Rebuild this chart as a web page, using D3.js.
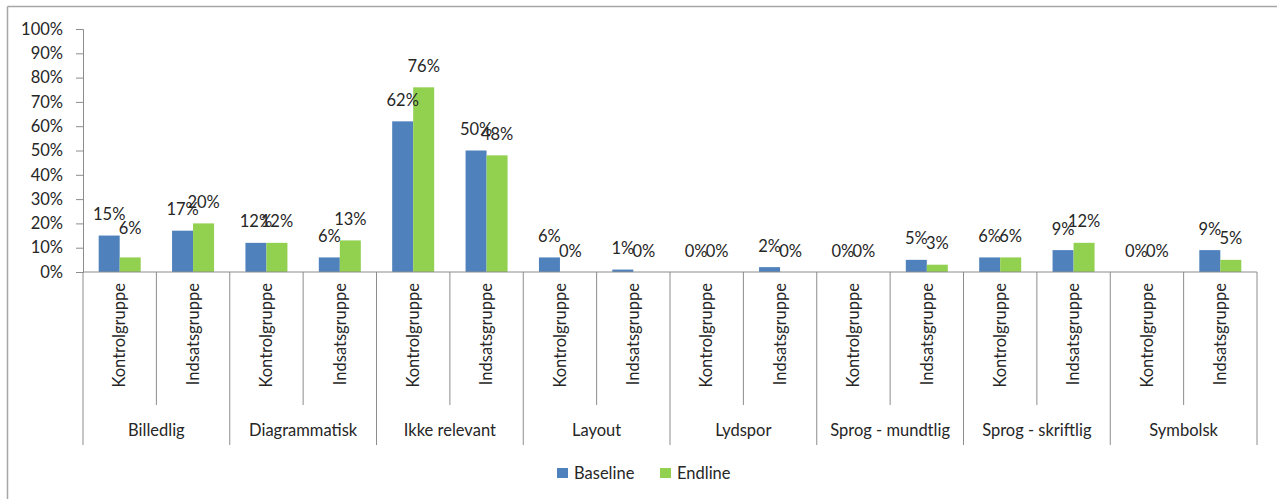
<!DOCTYPE html>
<html>
<head>
<meta charset="utf-8">
<script src="https://cdn.jsdelivr.net/npm/d3@7"></script>
<style>
  html, body { margin: 0; padding: 0; background: #fff; }
  svg { display: block; }
  text { font-family: Lato, "Open Sans", sans-serif; fill: #262626; }
</style>
</head>
<body>
<svg id="chart" width="1277" height="499"></svg>
<script>
// Categories: each main group has a control and an intervention subgroup
const groups = ["Billedlig", "Diagrammatisk", "Ikke relevant", "Layout", "Lydspor",
                "Sprog - mundtlig", "Sprog - skriftlig", "Symbolsk"];
const subgroups = ["Kontrolgruppe", "Indsatsgruppe"];
const seriesNames = ["Baseline", "Endline"];

// Share of answers (%), one value per group/subgroup in order
const baseline = [15, 17, 12, 6, 62, 50, 6, 1, 0, 2, 0, 5, 6, 9, 0, 9];
const endline  = [6, 20, 12, 13, 76, 48, 0, 0, 0, 0, 0, 3, 6, 12, 0, 5];

const yTicks = [0, 10, 20, 30, 40, 50, 60, 70, 80, 90, 100];

const colors = { Baseline: "#4F81BD", Endline: "#92D050" };
const axisColor = "#8c8c8c";

const svg = d3.select("#chart");

// outer chart frame
svg.append("line").attr("x1", 7.5).attr("x2", 1277).attr("y1", 6.5).attr("y2", 6.5)
  .attr("stroke", "#a6a6a6").attr("stroke-width", 1.5);
svg.append("line").attr("x1", 7.5).attr("x2", 7.5).attr("y1", 6.5).attr("y2", 499)
  .attr("stroke", "#a6a6a6").attr("stroke-width", 1.5);

const plot = { left: 83, right: 1257, top: 29, bottom: 272 };

// flat list of the 16 bars' category slots
const slots = [];
groups.forEach((g, gi) => subgroups.forEach((s, si) => {
  const i = gi * subgroups.length + si;
  slots.push({ key: g + "|" + s, group: g, sub: s, index: i,
               values: [baseline[i], endline[i]] });
}));

const x = d3.scaleBand().domain(slots.map(d => d.key))
  .range([plot.left, plot.right]).padding(0);
const y = d3.scaleLinear().domain([0, 100]).range([plot.bottom, plot.top]);
const barW = 21;
const xs = d3.scaleBand().domain(seriesNames).range([-barW, barW]).padding(0);

// y axis
const yAxis = d3.axisLeft(y).tickValues(yTicks).tickSize(7).tickPadding(13)
  .tickFormat(d => d + "%");
const gy = svg.append("g").attr("transform", `translate(${plot.left},0)`).call(yAxis);
gy.select(".domain").attr("stroke", axisColor);
gy.selectAll(".tick line").attr("stroke", axisColor);
gy.selectAll(".tick text").attr("font-size", 16.5).attr("fill", "#262626")
  .style("font-family", "Lato, sans-serif");

// bars
const slotG = svg.append("g").selectAll("g").data(slots).join("g")
  .attr("transform", d => `translate(${x(d.key) + x.bandwidth() / 2},0)`);

slotG.selectAll("rect")
  .data(d => seriesNames.map((s, k) => ({ series: s, value: d.values[k], idx: d.index })))
  .join("rect")
  .attr("x", d => xs(d.series))
  .attr("width", xs.bandwidth())
  .attr("y", d => y(d.value))
  .attr("height", d => y(0) - y(d.value))
  .attr("fill", d => colors[d.series]);

// value labels, sitting above each bar
const labelLift = { "0|Endline": 8 };
slotG.selectAll("text.val")
  .data(d => seriesNames.map((s, k) => ({ series: s, value: d.values[k], idx: d.index })))
  .join("text").attr("class", "val")
  .attr("x", d => xs(d.series) + xs.bandwidth() / 2)
  .attr("y", d => y(d.value) - 15.5 - (labelLift[d.idx + "|" + d.series] || 0))
  .attr("text-anchor", "middle")
  .attr("font-size", 16.5)
  .text(d => d.value + "%");

// category axis line
svg.append("line").attr("x1", plot.left).attr("x2", plot.right)
  .attr("y1", plot.bottom).attr("y2", plot.bottom).attr("stroke", axisColor);

// dividers between subgroups (short) and groups (long)
const bounds = d3.range(slots.length + 1);
svg.append("g").selectAll("line").data(bounds).join("line")
  .attr("x1", i => plot.left + i * x.bandwidth())
  .attr("x2", i => plot.left + i * x.bandwidth())
  .attr("y1", plot.bottom)
  .attr("y2", i => i % subgroups.length === 0 ? 445 : 405)
  .attr("stroke", axisColor);

// rotated subgroup labels
svg.append("g").selectAll("text").data(slots).join("text")
  .attr("transform", d => `translate(${x(d.key) + x.bandwidth() / 2},283) rotate(-90)`)
  .attr("text-anchor", "end")
  .attr("dy", "0.35em")
  .attr("font-size", 16.5)
  .text(d => d.sub);

// group labels
const groupW = x.bandwidth() * subgroups.length;
svg.append("g").selectAll("text").data(groups).join("text")
  .attr("x", (g, gi) => plot.left + gi * groupW + groupW / 2)
  .attr("y", 436)
  .attr("text-anchor", "middle")
  .attr("font-size", 16.5)
  .text(g => g);

// legend
const legendItems = [
  { name: "Baseline", x: 557 },
  { name: "Endline", x: 660 }
];
const lg = svg.append("g").selectAll("g").data(legendItems).join("g")
  .attr("transform", d => `translate(${d.x},468)`);
lg.append("rect").attr("width", 11).attr("height", 10).attr("fill", d => colors[d.name]);
lg.append("text").attr("x", 17).attr("y", 5).attr("dy", "0.35em")
  .attr("font-size", 16.5).text(d => d.name);
</script>
</body>
</html>
